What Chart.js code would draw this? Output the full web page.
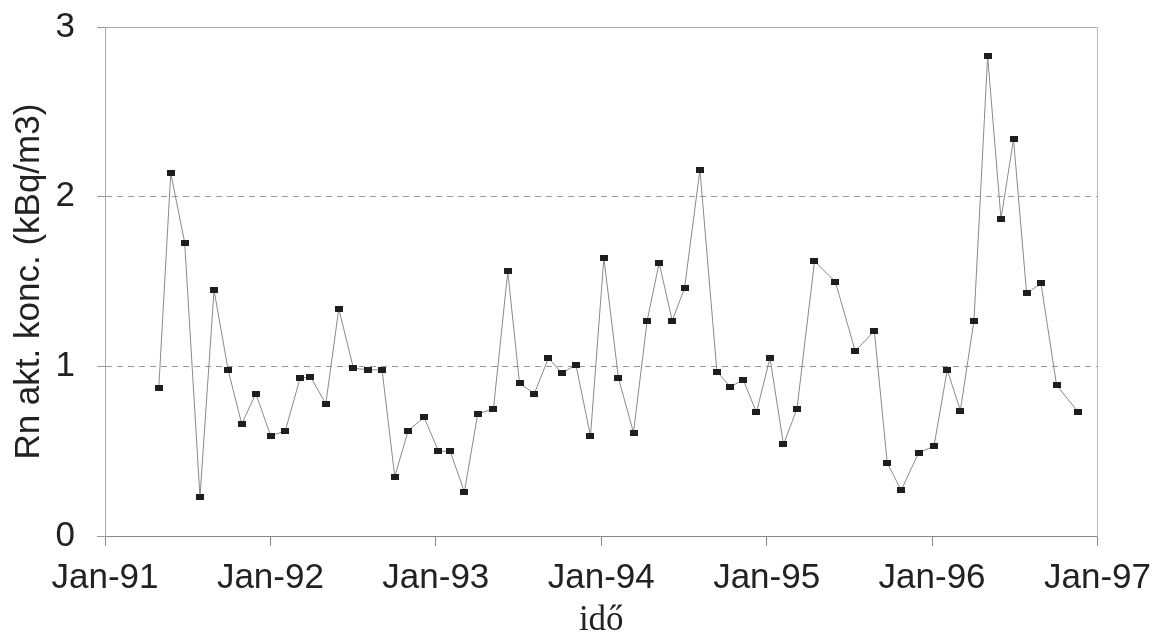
<!DOCTYPE html>
<html><head><meta charset="utf-8">
<script src="https://cdn.jsdelivr.net/npm/chart.js@4.4.0/dist/chart.umd.min.js"></script>
<style>html,body{margin:0;padding:0;background:#fff}#wrap{width:1162px;height:639px;position:relative}</style>
</head><body><div id="wrap"><canvas id="c" width="1162" height="639"></canvas></div>
<script>
// months since Jan-1991
const months = [3.90,4.77,5.78,6.89,7.91,8.93,9.92,10.94,12.02,13.08,14.15,14.90,16.02,16.96,18.02,19.06,20.10,21.02,21.99,23.15,24.19,25.04,26.07,27.04,28.18,29.22,30.07,31.15,32.17,33.14,34.16,35.22,36.19,37.25,38.34,39.33,40.20,41.15,42.04,43.16,44.39,45.36,46.30,47.26,48.24,49.22,50.20,51.47,52.98,54.43,55.81,56.75,57.76,59.02,60.14,61.10,62.05,63.04,64.03,65.00,65.91,66.86,67.90,69.03,70.61];
const values = [0.87,2.14,1.73,0.23,1.45,0.98,0.66,0.84,0.59,0.62,0.93,0.94,0.78,1.34,0.99,0.98,0.98,0.35,0.62,0.70,0.50,0.50,0.26,0.72,0.75,1.56,0.90,0.84,1.05,0.96,1.01,0.59,1.64,0.93,0.61,1.27,1.61,1.27,1.46,2.16,0.97,0.88,0.92,0.73,1.05,0.54,0.75,1.62,1.50,1.09,1.21,0.43,0.27,0.49,0.53,0.98,0.74,1.27,2.83,1.87,2.34,1.43,1.49,0.89,0.73];
const xTickLabels = ['Jan-91','Jan-92','Jan-93','Jan-94','Jan-95','Jan-96','Jan-97'];
const yTickLabels = ['0','1','2','3'];
const xTitle = 'idő';
const yTitle = 'Rn akt. konc. (kBq/m3)';

const marker = document.createElement('canvas');
marker.width = 8; marker.height = 6;
const mctx = marker.getContext('2d');
mctx.fillStyle = '#1e1e1e';
mctx.fillRect(0, 0, 8, 6);

const sans = "'Liberation Sans', Arial, sans-serif";
const serif = "'Liberation Serif', 'Times New Roman', serif";

new Chart(document.getElementById('c'), {
  type: 'line',
  data: {
    datasets: [{
      data: months.map((m, i) => ({x: m, y: values[i]})),
      borderColor: '#8a8a8a',
      borderWidth: 1,
      pointStyle: marker,
      pointRadius: 4,
      tension: 0,
      fill: false
    }]
  },
  options: {
    responsive: false,
    animation: false,
    layout: {padding: {left: 5, right: 52, top: 1, bottom: 4}},
    plugins: {legend: {display: false}, tooltip: {enabled: false}},
    scales: {
      x: {
        type: 'linear', position: 'bottom', min: 0, max: 72,
        afterFit: (s) => { s.height = 99; },
        ticks: {stepSize: 12, autoSkip: false, maxRotation: 0, padding: 11,
          color: '#222', font: {family: sans, size: 35},
          callback: (v) => xTickLabels[Math.round(v / 12)]},
        grid: {drawOnChartArea: false, drawTicks: true, tickLength: 10, tickColor: '#888'},
        border: {color: '#888', width: 1},
        title: {display: true, text: xTitle, color: '#222', font: {family: serif, size: 35}, padding: {top: 0, bottom: -7}}
      },
      y: {
        type: 'linear', position: 'left', min: 0, max: 3,
        afterFit: (s) => { s.width = 100; },
        ticks: {stepSize: 1, padding: 22, color: '#222', font: {family: sans, size: 35, lineHeight: 0.3},
          callback: (v) => yTickLabels[Math.round(v)]},
        grid: {
          color: (c) => (c.tick && (c.tick.value === 1 || c.tick.value === 2)) ? '#9a9a9a' : 'rgba(0,0,0,0)',
          lineWidth: 1, drawTicks: true, tickLength: 8, tickColor: '#999'
        },
        border: {color: '#aaa', width: 1, dash: [6, 5]},
        title: {display: true, text: yTitle, color: '#222', font: {family: sans, size: 35}, padding: {top: 3, bottom: 0}}
      },
      xTop: {
        type: 'linear', position: 'top', min: 0, max: 72,
        ticks: {display: false}, grid: {display: false},
        border: {display: true, color: '#aaa', width: 1}
      },
      yRight: {
        type: 'linear', position: 'right', min: 0, max: 3,
        ticks: {display: false}, grid: {display: false},
        border: {display: true, color: '#bbb', width: 1}
      }
    }
  }
});
</script>
</body></html>
